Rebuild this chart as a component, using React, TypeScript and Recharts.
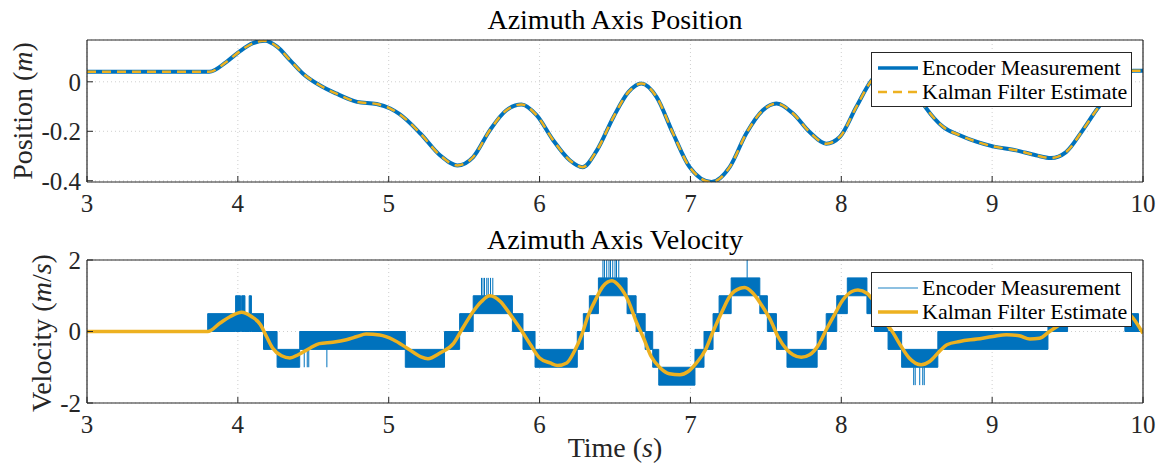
import React from "react";
import { ComposedChart, Line, Area, XAxis, YAxis, CartesianGrid } from "recharts";

// axis ticks
const timeTicks = [3, 4, 5, 6, 7, 8, 9, 10];
const posTicks = [-0.4, -0.2, 0];
const velTicks = [-2, 0, 2];

// azimuth position (m) - encoder and kalman overlap completely
const posT = [3.0, 3.5, 3.81, 3.925, 4.01, 4.1, 4.18, 4.26, 4.345, 4.43, 4.54, 4.65, 4.79, 4.92, 5.01, 5.07, 5.21, 5.34, 5.455, 5.56, 5.67, 5.78, 5.88, 5.98, 6.09, 6.2, 6.285, 6.38, 6.49, 6.59, 6.675, 6.775, 6.885, 6.995, 7.14, 7.26, 7.37, 7.48, 7.57, 7.68, 7.79, 7.9, 7.99, 8.1, 8.2, 8.29, 8.4, 8.48, 8.56, 8.675, 8.785, 8.9, 9.005, 9.16, 9.29, 9.39, 9.49, 9.6, 9.69, 9.8, 9.88, 9.935, 10.0];
const posVal = [0.0405, 0.0405, 0.0405, 0.081, 0.122, 0.156, 0.166, 0.142, 0.088, 0.034, -0.013, -0.047, -0.081, -0.09, -0.108, -0.13, -0.209, -0.297, -0.338, -0.304, -0.196, -0.115, -0.092, -0.135, -0.236, -0.317, -0.345, -0.277, -0.142, -0.041, -0.007, -0.061, -0.209, -0.345, -0.405, -0.345, -0.209, -0.115, -0.088, -0.128, -0.203, -0.25, -0.223, -0.101, 0.005, 0.05, 0.035, -0.025, -0.104, -0.182, -0.216, -0.243, -0.261, -0.277, -0.297, -0.308, -0.284, -0.196, -0.115, -0.03, 0.03, 0.045, 0.045];

// kalman velocity estimate (m/s)
const kfT = [3.0, 3.5, 3.8, 3.88, 3.95, 4.025, 4.09, 4.15, 4.19, 4.23, 4.29, 4.345, 4.4, 4.48, 4.54, 4.63, 4.72, 4.79, 4.85, 4.94, 5.03, 5.12, 5.21, 5.26, 5.34, 5.43, 5.49, 5.56, 5.615, 5.67, 5.74, 5.8, 5.87, 5.94, 6.0, 6.07, 6.12, 6.18, 6.23, 6.28, 6.32, 6.37, 6.42, 6.48, 6.53, 6.59, 6.64, 6.69, 6.74, 6.8, 6.86, 6.93, 6.985, 7.04, 7.1, 7.15, 7.21, 7.26, 7.33, 7.36, 7.415, 7.47, 7.53, 7.58, 7.64, 7.68, 7.735, 7.79, 7.85, 7.9, 7.96, 8.01, 8.07, 8.11, 8.17, 8.21, 8.26, 8.3, 8.33, 8.39, 8.45, 8.53, 8.585, 8.65, 8.7, 8.785, 8.9, 9.005, 9.095, 9.18, 9.25, 9.315, 9.38, 9.45, 9.55, 9.65, 9.75, 9.85, 9.935, 10.0];
const kfV = [0, 0, 0, 0.23, 0.42, 0.54, 0.42, 0.19, -0.14, -0.46, -0.68, -0.74, -0.65, -0.46, -0.34, -0.3, -0.23, -0.14, -0.07, -0.1, -0.23, -0.46, -0.7, -0.76, -0.6, -0.33, 0.09, 0.56, 0.84, 1.0, 0.84, 0.51, 0.09, -0.37, -0.74, -0.88, -0.95, -0.88, -0.56, -0.09, 0.42, 0.88, 1.26, 1.42, 1.26, 0.84, 0.28, -0.19, -0.7, -1.02, -1.18, -1.21, -1.12, -0.88, -0.51, 0.0, 0.56, 0.98, 1.21, 1.23, 1.07, 0.75, 0.33, -0.14, -0.51, -0.65, -0.72, -0.65, -0.37, 0.05, 0.51, 0.88, 1.12, 1.16, 1.07, 0.88, 0.55, 0.2, 0.05, -0.37, -0.74, -0.93, -0.84, -0.56, -0.37, -0.28, -0.21, -0.14, -0.09, -0.12, -0.21, -0.19, 0.0, 0.2, 0.6, 0.85, 0.85, 0.7, 0.37, -0.05];

// encoder velocity: quantised bands (start time, low level, high level)
const encT = [3.0, 3.8, 3.985, 4.018, 4.025, 4.047, 4.075, 4.09, 4.17, 4.26, 4.41, 5.11, 5.37, 5.47, 5.56, 5.82, 5.89, 5.97, 6.25, 6.29, 6.33, 6.39, 6.58, 6.64, 6.7, 6.75, 6.79, 7.03, 7.09, 7.15, 7.19, 7.27, 7.46, 7.51, 7.57, 7.64, 7.84, 7.9, 7.97, 8.04, 8.17, 8.22, 8.31, 8.4, 8.64, 9.37, 9.5, 9.88, 9.97, 10.0];
const encLo = [0, 0, 0, 0, 0, 0, 0, 0, -0.5, -1, -0.5, -1, -0.5, 0, 0.5, 0, -0.5, -1, -0.5, 0, 0.5, 1, 0.5, 0, -0.5, -1, -1.5, -1, -0.5, 0, 0.5, 1, 0.5, 0, -0.5, -1, -0.5, 0, 0.5, 1, 0.5, 0, -0.5, -1, -0.5, 0, 0.5, 0, 0, 0];
const encHi = [0, 0.5, 1, 0.5, 1, 0.5, 1, 0.5, 0, -0.5, 0, -0.5, 0, 0.5, 1, 0.5, 0, -0.5, 0, 0.5, 1, 1.5, 1, 0.5, 0, -0.5, -1, -0.5, 0, 0.5, 1, 1.5, 1, 0.5, 0, -0.5, 0, 0.5, 1, 1.5, 1, 0.5, 0, -0.5, 0, 0.5, 1, 0.5, 0, 0];

// single encoder jumps to the next level
const spikeT = [4.44, 4.46, 4.47, 4.59, 5.615, 5.625, 5.635, 5.65, 5.66, 5.675, 5.69, 6.42, 6.43, 6.445, 6.46, 6.47, 6.485, 6.5, 6.51, 6.525, 7.376, 8.48, 8.49, 8.52, 8.54, 8.55];
const spikeLo = [-0.5, -0.5, -0.5, -0.5, 1, 1, 1, 1, 1, 1, 1, 1.5, 1.5, 1.5, 1.5, 1.5, 1.5, 1.5, 1.5, 1.5, 1.5, -1, -1, -1, -1, -1];
const spikeHi = [-1, -1, -1, -1, 1.5, 1.5, 1.5, 1.5, 1.5, 1.5, 1.5, 2, 2, 2, 2, 2, 2, 2, 2, 2, 2, -1.5, -1.5, -1.5, -1.5, -1.5];

const BLUE = "#0072BD";
const GOLD = "#EDB120";
const INK = "#262626";
const FONT = '"Liberation Serif", "Times New Roman", serif';

const posData = posT.map((t, i) => ({ t, v: posVal[i] }));
const kfData = kfT.map((t, i) => ({ t, v: kfV[i] }));
const encData = encT.map((t, i) => ({ t, r: [encLo[i], encHi[i]] }));
const spikeData = spikeT.flatMap((t, i) => [
  { t, v: spikeLo[i] },
  { t, v: spikeHi[i] },
  { t, v: null },
]);

const tickStyle = { fill: INK, fontSize: 25, fontFamily: FONT };

// box with inward ticks: bottom/left carry labels, top/right only ticks
function axes(yDomain: number[], yTicks: number[], topH: number, bottomH: number) {
  return [
    <XAxis key="xb" dataKey="t" type="number" domain={[3, 10]} ticks={timeTicks} allowDataOverflow
      height={bottomH} tickSize={-6} tickMargin={18} tick={tickStyle}
      axisLine={{ stroke: INK, strokeWidth: 1.2 }} tickLine={{ stroke: INK }} />,
    <XAxis key="xt" xAxisId="top" orientation="top" dataKey="t" type="number" domain={[3, 10]} ticks={timeTicks}
      height={topH} tickSize={-6} tick={false}
      axisLine={{ stroke: INK, strokeWidth: 1.2 }} tickLine={{ stroke: INK }} />,
    <YAxis key="yl" type="number" domain={yDomain} ticks={yTicks} allowDataOverflow width={87}
      tickSize={-6} tickMargin={12} tick={tickStyle} tickFormatter={(v: number) => String(v)}
      axisLine={{ stroke: INK, strokeWidth: 1.2 }} tickLine={{ stroke: INK }} />,
    <YAxis key="yr" yAxisId="right" orientation="right" type="number" domain={yDomain} ticks={yTicks} allowDataOverflow width={18}
      tickSize={-6} tick={false}
      axisLine={{ stroke: INK, strokeWidth: 1.2 }} tickLine={{ stroke: INK }} />,
  ];
}

function LegendBox({ top, dashed, thin }: { top: number; dashed: boolean; thin: boolean }) {
  const row = (y: number, color: string, w: number, dash: string | undefined, label: string, op = 1) => (
    <div style={{ position: "absolute", left: 0, top: y - 14, height: 28, display: "flex", alignItems: "center" }}>
      <svg width={50} height={28} style={{ display: "block" }}>
        <line x1={6} x2={46} y1={14} y2={14} stroke={color} strokeWidth={w} strokeDasharray={dash} strokeOpacity={op} />
      </svg>
      <span style={{ fontFamily: FONT, fontSize: 22, color: "#000", whiteSpace: "nowrap" }}>{label}</span>
    </div>
  );
  return (
    <div style={{ position: "absolute", left: 871, top, width: 259, height: 53, border: `1px solid ${INK}`, background: "#fff", zIndex: 2 }}>
      {row(15, BLUE, thin ? 1.5 : 3.5, undefined, "Encoder Measurement", thin ? 0.6 : 1)}
      {row(39, GOLD, thin ? 3.5 : 2.5, dashed ? "9 6" : undefined, "Kalman Filter Estimate")}
    </div>
  );
}

const abs = (l: number, t: number): React.CSSProperties => ({ position: "absolute", left: l, top: t });

export default function App() {
  return (
    <div style={{ position: "absolute", left: 0, top: 0, width: 1161, height: 470, background: "#fff", overflow: "hidden" }}>
      {/* position panel */}
      <div style={abs(0, 0)}>
        <ComposedChart width={1161} height={230} margin={{ top: 0, right: 0, bottom: 0, left: 0 }}>
          <CartesianGrid stroke="#cfcfcf" strokeDasharray="1 3" />
          {axes([-0.405, 0.169], posTicks, 40, 48)}
          <Line data={posData} dataKey="v" type="monotone" stroke={BLUE} strokeWidth={4} dot={false} activeDot={false} isAnimationActive={false} />
          <Line data={posData} dataKey="v" type="monotone" stroke={GOLD} strokeWidth={2.5} strokeDasharray="9 6" dot={false} activeDot={false} isAnimationActive={false} />
        </ComposedChart>
      </div>
      {/* velocity panel */}
      <div style={abs(0, 230)}>
        <ComposedChart width={1161} height={240} margin={{ top: 0, right: 0, bottom: 0, left: 0 }}>
          <CartesianGrid stroke="#cfcfcf" strokeDasharray="1 3" />
          {axes([-2, 2], velTicks, 30, 67)}
          <Area data={encData} dataKey="r" type="stepAfter" stroke={BLUE} strokeWidth={1} fill={BLUE} fillOpacity={1} dot={false} activeDot={false} isAnimationActive={false} />
          <Line data={spikeData} dataKey="v" type="linear" stroke={BLUE} strokeWidth={1} dot={false} activeDot={false} connectNulls={false} isAnimationActive={false} />
          <Line data={kfData} dataKey="v" type="monotone" stroke={GOLD} strokeWidth={3.5} dot={false} activeDot={false} isAnimationActive={false} />
        </ComposedChart>
      </div>

      <div style={{ ...abs(615, 4), transform: "translateX(-50%)", fontFamily: FONT, fontSize: 28, color: "#000", whiteSpace: "nowrap" }}>Azimuth Axis Position</div>
      <div style={{ ...abs(615, 224), transform: "translateX(-50%)", fontFamily: FONT, fontSize: 28, color: "#000", whiteSpace: "nowrap" }}>Azimuth Axis Velocity</div>
      <div style={{ ...abs(615, 432), transform: "translateX(-50%)", fontFamily: FONT, fontSize: 28, color: INK, whiteSpace: "nowrap" }}>Time (<i>s</i>)</div>
      <div style={{ ...abs(23, 111), transform: "translate(-50%,-50%) rotate(-90deg)", fontFamily: FONT, fontSize: 28, color: INK, whiteSpace: "nowrap" }}>Position (<i>m</i>)</div>
      <div style={{ ...abs(42, 333), transform: "translate(-50%,-50%) rotate(-90deg)", fontFamily: FONT, fontSize: 28, color: INK, whiteSpace: "nowrap" }}>Velocity (<i>m</i>/<i>s</i>)</div>

      <LegendBox top={52} dashed={true} thin={false} />
      <LegendBox top={272} dashed={false} thin={true} />
    </div>
  );
}
